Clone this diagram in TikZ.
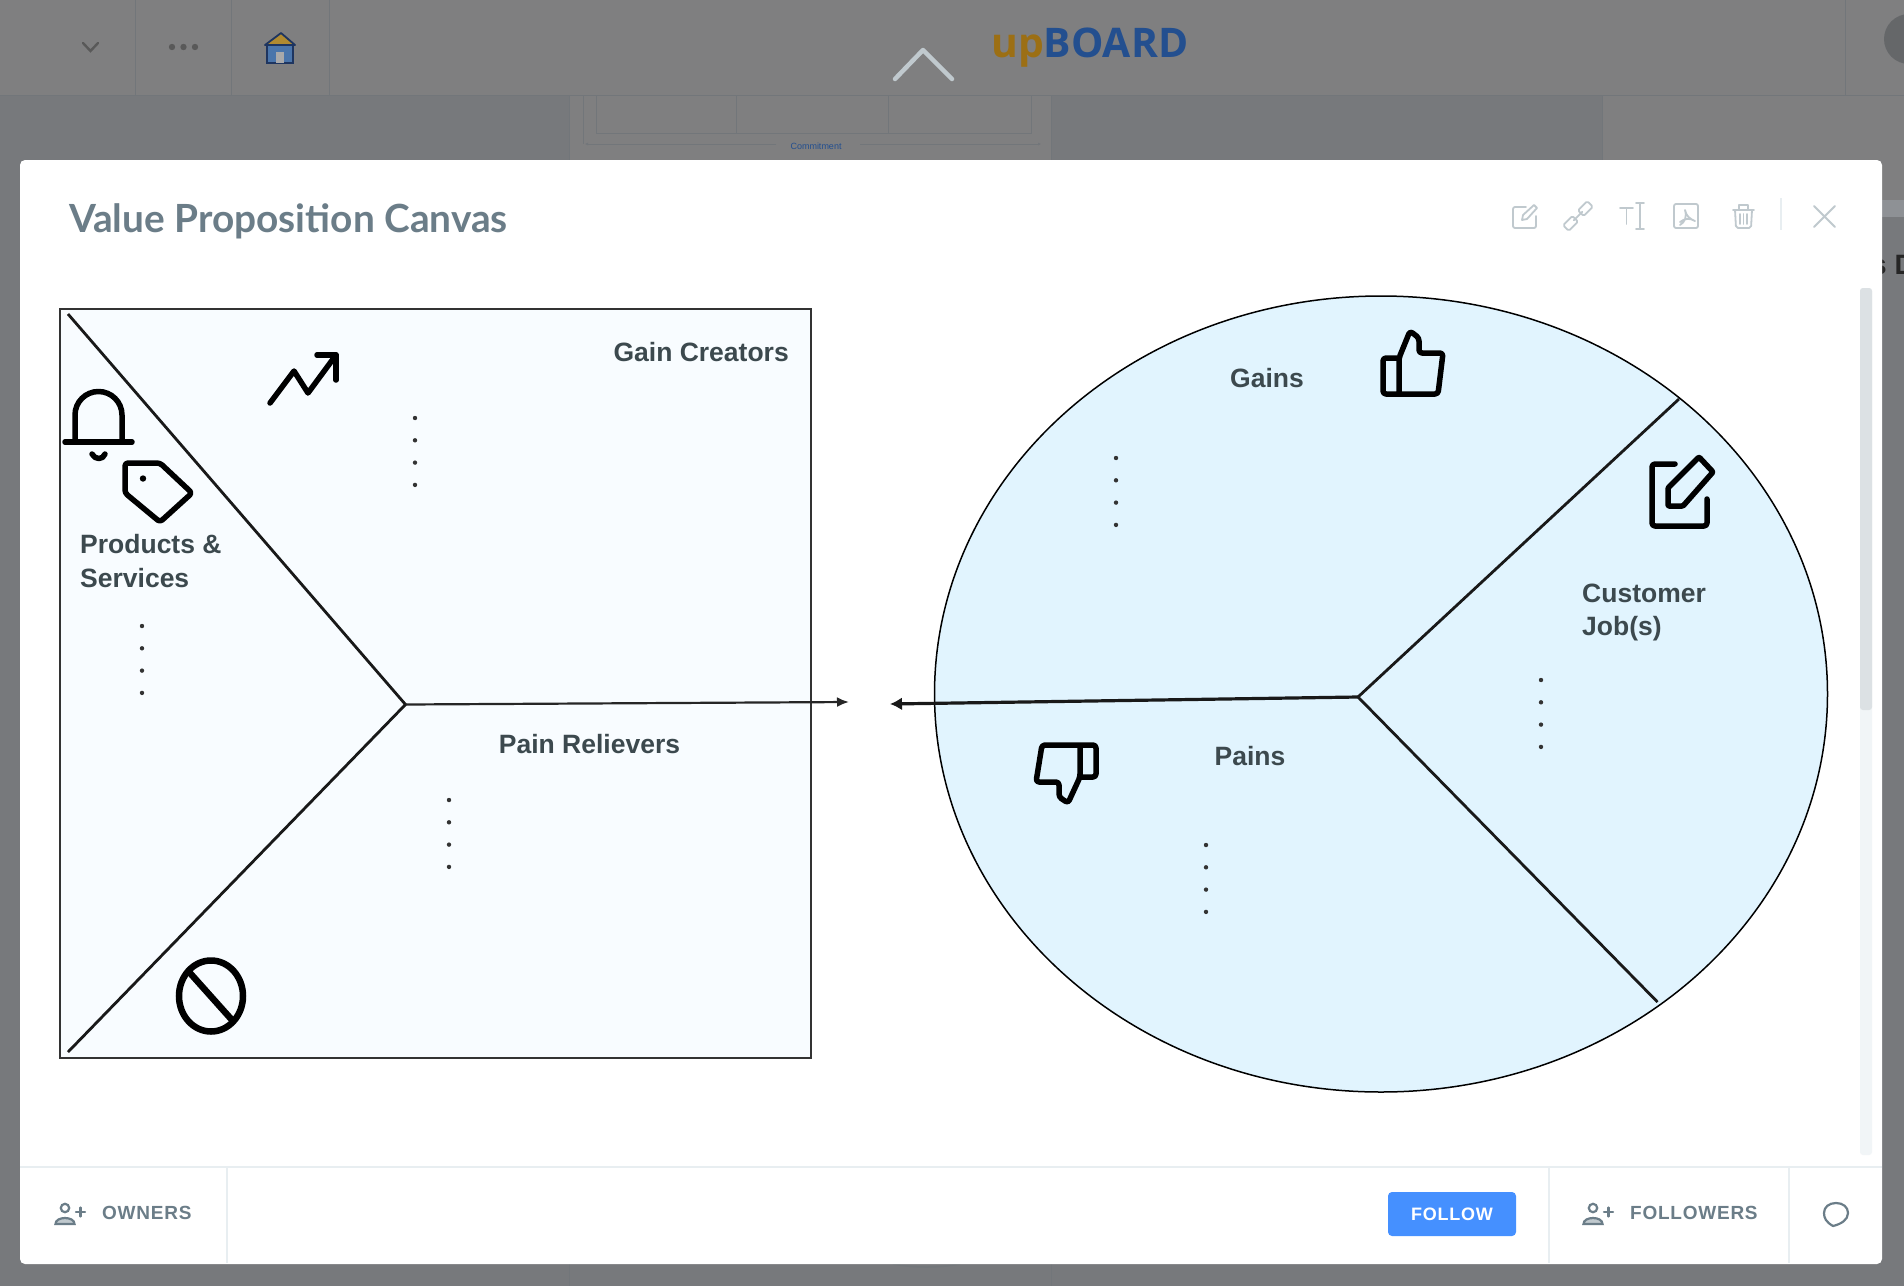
\documentclass[tikz,border=0pt]{standalone}
\usepackage{fontspec}
\setmainfont{Liberation Sans}
\newfontfamily\titlefont{Lato}
\newfontfamily\logofont{Open Sans}
\newfontfamily\barfont[LetterSpace=4]{Liberation Sans}
\usetikzlibrary{arrows.meta,shapes.geometric}
\definecolor{barGrey}{HTML}{7F7F80}
\definecolor{pageGrey}{HTML}{77797C}
\definecolor{lineGrey}{HTML}{72767A}
\definecolor{chromeGrey}{HTML}{C0C9CE}
\definecolor{ruleGrey}{HTML}{E8EEF1}
\definecolor{labelInk}{HTML}{3C494E}
\definecolor{barInk}{HTML}{6B7D88}
\definecolor{boxTint}{HTML}{F8FCFF}
\definecolor{discTint}{HTML}{E1F4FE}
\definecolor{logoGold}{HTML}{9C6F14}
\definecolor{logoBlue}{HTML}{234F8F}
\definecolor{homeRoof}{HTML}{B08A30}
\definecolor{homeWall}{HTML}{4A75AB}
\definecolor{homeLine}{HTML}{1E3560}
\definecolor{followBlue}{HTML}{4590FF}
\tikzset{
  label/.style={inner sep=0pt, text=labelInk, font=\fontsize{26.5}{33.5}\selectfont\bfseries},
  barlabel/.style={inner sep=0pt, text=barInk, font=\fontsize{19}{23}\selectfont\barfont\bfseries},
  icon/.style={line width=5.5pt, line join=round, line cap=round, rounded corners=3pt},
  chrome/.style={chromeGrey, line width=1.8pt, line join=round, line cap=round},
  barbit/.style={barInk, line width=2.2pt, line cap=round},
  hair/.style={lineGrey, line width=1pt}
}
\newcommand{\dotcolumn}[2]{\foreach \k in {0,1,2,3} \fill[black!80] (#1,#2+22.3*\k) circle (2.2pt);}
\newcommand{\personplus}[2]{
  \draw[barbit] (#1,#2-4) circle (4.2pt);
  \draw[barbit, fill=chromeGrey] (#1-9.5,#2+12) .. controls (#1-9.5,#2+4) and (#1+9.5,#2+4) .. (#1+9.5,#2+12) -- cycle;
  \draw[barbit] (#1+11,#2) -- (#1+20,#2) (#1+15.5,#2-4.5) -- (#1+15.5,#2+4.5);
}
\begin{document}
\begin{tikzpicture}[x=1pt,y=-1pt]
  \clip (0,0) rectangle (1904,1286);
  % Page behind the dialog
  \fill[pageGrey] (0,0) rectangle (1904,1286);
  \fill[barGrey] (0,0) rectangle (1904,95);
  \fill[barGrey] (1602,95) rectangle (1904,200);
  \fill[barGrey] (569,95) rectangle (1051,160);
  \fill[lineGrey!80!white] (1882,200) rectangle (1904,217);
  \draw[hair] (0,95) -- (1904,95);
  \foreach \x in {135,231,329,1845} \draw[hair] (\x,0) -- (\x,95);
  \foreach \x in {569,1051,1602} \draw[hair] (\x,95) -- (\x,160);
  \foreach \x in {569,1051} \draw[hair] (\x,1264) -- (\x,1286);
  \draw[hair] (596,95) -- (596,133) -- (1031,133) -- (1031,95);
  \draw[hair] (736,95) -- (736,133) (888,95) -- (888,133);
  \draw[hair] (583,95) -- (583,144);
  \fill[pageGrey!85!black] (1909,39) circle (25pt);
  \node[anchor=west, inner sep=0pt, text=black!85, font=\fontsize{28}{32}\selectfont\bfseries] (nextCard) at (1871,265) {s D};
  % Thin timeline on the card behind
  \coordinate (timeA) at (585,144);
  \coordinate (timeB) at (776,144);
  \coordinate (timeC) at (860,144);
  \coordinate (timeD) at (1041,144);
  \draw[hair, -{Latex[length=3pt,width=3pt]}] (timeB) -- (timeA);
  \draw[hair, -{Latex[length=3pt,width=3pt]}] (timeC) -- (timeD);
  \node[inner sep=0pt, text=logoBlue, font=\fontsize{9}{10}\selectfont] (commitLabel) at (816,146) {Commitment};
  \draw[lineGrey, line width=1.5pt] (893,1264) .. controls (915,1268) and (938,1268) .. (960,1264);
  % Top bar
  \draw[black!65, line width=2.4pt, line cap=round] (83,43) -- (90.5,51) -- (98,43);
  \foreach \x in {172,183.5,195} \fill[black!65] (\x,47) circle (3.2pt);
  \draw[homeLine, fill=homeWall, line width=1.8pt] (267,45) rectangle (293,63);
  \fill[black!12!barGrey!60!white] (276,52) rectangle (284,63);
  \draw[homeLine, fill=homeRoof, line width=1.8pt, line join=round] (265,45) -- (281,33) -- (295,45) -- cycle;
  \draw[chromeGrey, line width=4.5pt, line cap=round, line join=round] (895,79) -- (923,50) -- (952,79);
  \node[anchor=west, inner sep=0pt, font=\fontsize{40.8}{46}\selectfont\logofont\bfseries] (logoText) at (991,48) {\textcolor{logoGold}{up}\textcolor{logoBlue}{BOARD}};
  % Dialog
  \fill[white, rounded corners=5pt] (20,160) rectangle (1882,1264);
  \node[anchor=west, inner sep=0pt, text=barInk, font=\fontsize{38.8}{44}\selectfont\titlefont\bfseries] (dialogTitle) at (69,221.5) {Value Proposition Canvas};
  % Dialog tools
  \draw[chrome, rounded corners=2pt] (1526,207) -- (1513,207) -- (1513,228) -- (1536,228) -- (1536,216);
  \draw[chrome] (1522,220) -- (1523,215) -- (1534,205) -- (1537,208) -- (1527,219) -- cycle;
  \draw[chrome, rounded corners=1.5pt, rotate around={45:(1578,216)}] (1561,212) rectangle (1574,220) (1582,212) rectangle (1595,220) (1572,216) -- (1584,216);
  \draw[chrome] (1620,208) -- (1633,208) (1626.5,208) -- (1626.5,224);
  \draw[chrome] (1640,204) -- (1640,228) (1636,203) -- (1644,203) (1636,229) -- (1644,229);
  \draw[chrome, rounded corners=2pt] (1674,204) rectangle (1698,228);
  \draw[chrome] (1685,210) .. controls (1687,217) and (1685,222) .. (1680,225) (1680,222) .. controls (1685,218) and (1690,218) .. (1695,221) (1685,210) .. controls (1686,216) and (1690,219) .. (1695,221);
  \draw[chrome, rounded corners=2pt] (1735,210) -- (1736,228) -- (1751,228) -- (1752,210);
  \draw[chrome] (1733,210) -- (1754,210) (1739,210) -- (1739,205) -- (1748,205) -- (1748,210);
  \draw[chrome] (1740,214) -- (1740,224) (1743.5,214) -- (1743.5,224) (1747,214) -- (1747,224);
  \draw[ruleGrey, line width=1.5pt] (1781,198) -- (1781,230);
  \draw[chromeGrey, line width=2pt, line cap=round] (1814,206) -- (1835,227) (1835,206) -- (1814,227);
  % Scrollbar
  \fill[ruleGrey!60, rounded corners=3pt] (1860,288) rectangle (1872,1155);
  \fill[chromeGrey!55, rounded corners=3pt] (1860,288) rectangle (1872,710);
  % Footer
  \draw[ruleGrey, line width=1.5pt] (20,1167) -- (1882,1167);
  \foreach \x in {227,1549,1789} \draw[ruleGrey, line width=1.5pt] (\x,1167) -- (\x,1263);
  \personplus{65}{1212}
  \node[barlabel, anchor=west] (ownersLabel) at (102,1213) {OWNERS};
  \node[fill=followBlue, rounded corners=4pt, minimum width=128pt, minimum height=44pt, inner sep=0pt, text=white, font=\fontsize{18}{22}\selectfont\barfont\bfseries] (followBtn) at (1452,1214) {FOLLOW};
  \personplus{1593}{1212}
  \node[barlabel, anchor=west] (followersLabel) at (1630,1213) {FOLLOWERS};
  \draw[barbit, line join=round] (1833,1226) .. controls (1826,1222) and (1824,1218) .. (1824,1213) .. controls (1824,1207) and (1829,1203) .. (1836,1203) .. controls (1843,1203) and (1848,1207) .. (1848,1213) .. controls (1848,1220) and (1841,1224) .. (1833,1226) -- cycle;
  % Value map
  \node[draw=black!80, fill=boxTint, line width=1.5pt, rectangle, minimum width=751pt, minimum height=749pt, inner sep=0pt] (valueBox) at (435.5,683.5) {};
  \coordinate (boxTop) at (68,314);
  \coordinate (boxBottom) at (68,1052);
  \coordinate (boxCentre) at (405.5,704.5);
  \coordinate (boxTip) at (849,702);
  \draw[line width=2.8pt, black!90] (boxTop) -- (boxCentre) -- (boxBottom);
  \draw[line width=2.2pt, black!85, -{Latex[length=12pt,width=10pt]}] (boxCentre) -- (boxTip);
  \node[label, anchor=east] (gainCreators) at (789,352) {Gain Creators};
  \node[label, anchor=west, align=left] (products) at (80,561) {Products \&\\Services};
  \node[label] (painRelievers) at (589.5,744) {Pain Relievers};
  \dotcolumn{415}{418}
  \dotcolumn{142}{626}
  \dotcolumn{449}{800}
  % Customer profile
  \node[draw=black, fill=discTint, line width=1.5pt, ellipse, minimum width=893pt, minimum height=796pt, inner sep=0pt] (profileDisc) at (1381,694) {};
  \coordinate (discCentre) at (1358,697);
  \coordinate (discUpper) at (1679,399);
  \coordinate (discLower) at (1657.5,1002);
  \coordinate (discTip) at (890,704);
  \draw[line width=2.8pt, black!90] (discUpper) -- (discCentre) -- (discLower);
  \draw[line width=3.2pt, black!90, -{Latex[length=12pt,width=13pt]}] (discCentre) -- (discTip);
  \node[label] (gains) at (1267,378) {Gains};
  \node[label, anchor=west, align=left] (customerJobs) at (1582,612.5) {Customer\\Job(s)};
  \node[label] (pains) at (1250,756) {Pains};
  \dotcolumn{1116}{458}
  \dotcolumn{1541}{680}
  \dotcolumn{1206}{845}
  % Bell and tag
  \draw[icon, rounded corners=0pt] (75,442) -- (75,415) arc[start angle=180, end angle=0, radius=23.5pt] -- (122,442);
  \draw[icon, rounded corners=0pt] (65,442) -- (132,442);
  \draw[icon, rounded corners=0pt] (92,454) .. controls (95,460) and (103,460) .. (105,454);
  \draw[icon] (125,463) -- (160,463) -- (192,493) -- (160,522) -- (125,493) -- cycle;
  \fill (143,478.5) circle (3.2pt);
  % Trend arrow
  \draw[icon, rounded corners=0pt] (270,403) -- (294,371) -- (308,393) -- (336,355);
  \draw[icon, rounded corners=0pt] (317,355) -- (336,355) -- (336,380);
  % Prohibited sign
  \draw[line width=6.5pt] (211,996) ellipse [x radius=32pt, y radius=35.5pt];
  \draw[line width=6.5pt] (190,973) -- (232,1020);
  % Thumbs
  \draw[icon] (1399,358) -- (1383,358) -- (1383,394) -- (1438,394) -- (1443,353) -- (1419,353) -- (1419,338) -- (1410,331) -- (1399,358) -- (1399,394);
  \draw[icon] (1080,777) -- (1096,777) -- (1096,745) -- (1042,745) -- (1036,782) -- (1059,782) -- (1059,797) -- (1068,803) -- (1080,777) -- (1080,745);
  % Edit mark
  \draw[icon] (1675,464) -- (1652,464) -- (1652,526) -- (1707,526) -- (1707,499);
  \draw[icon, rounded corners=1pt] (1699,457) -- (1713,472) -- (1683,506) -- (1668,506) -- (1668,488) -- cycle;
\end{tikzpicture}
\end{document}
